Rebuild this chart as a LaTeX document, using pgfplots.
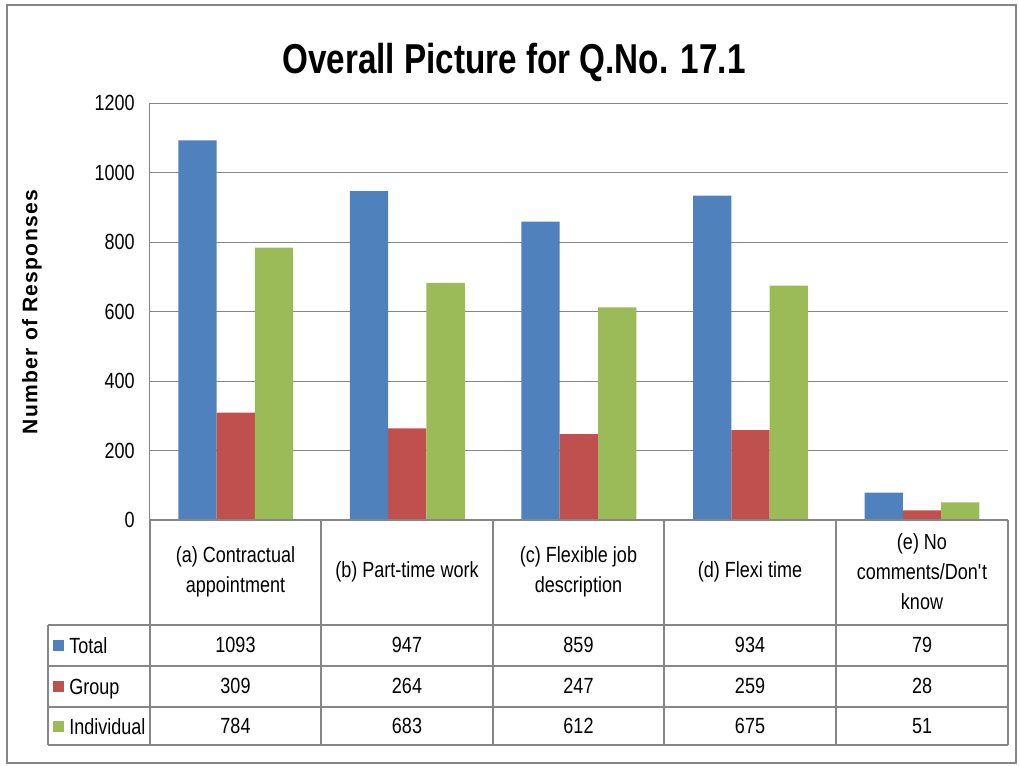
\documentclass[border=0pt]{standalone}
\usepackage{pgfplots}
\pgfplotsset{compat=1.18}
\usepackage{fontspec}
\setmainfont{Liberation Sans}[FakeStretch=0.82]
\newfontfamily\titlefont{Liberation Sans}[FakeStretch=0.795]
\newfontfamily\ylabfont{Liberation Sans}[LetterSpace=6]
\definecolor{cTotal}{HTML}{4F81BD}
\definecolor{cGroup}{HTML}{C0504D}
\definecolor{cIndiv}{HTML}{9BBB59}
\definecolor{lgray}{HTML}{868686}
\begin{document}
\begin{tikzpicture}[x=0.02cm,y=0.02cm]
  \useasboundingbox (0,0) rectangle (1020,765);
  \draw[lgray, line width=0.9pt] (7,2) rectangle (1016,760);
  % title and y label
  \node[font=\fontsize{23.8}{28}\selectfont\titlefont\bfseries] at (514,703) {Overall Picture for Q.No. 17.1};
  \node[rotate=90, font=\fontsize{12}{14}\selectfont\ylabfont\bfseries] at (32,453) {Number of Responses};
  \begin{axis}[
      at={(3cm,4.9cm)}, anchor=south west,
      scale only axis,
      width=17.16cm, height=8.34cm,
      xmin=-0.5, xmax=4.5,
      ymin=0, ymax=1200,
      ytick={0,200,...,1200},
      xtick=\empty,
      axis x line*=bottom, axis y line*=left,
      axis line style={lgray, line width=0.6pt, -},
      ymajorgrids, grid style={lgray, line width=0.6pt},
      ytick style={draw=none},
      yticklabel style={anchor=east, inner sep=0pt, xshift=-0.3cm,
        font=\fontsize{12.5}{14}\selectfont},
      /pgf/number format/assume math mode=true,
      /pgf/number format/1000 sep={},
      ybar=0pt, bar width=0.766cm,
      clip=false,
    ]
    \addplot[draw=none, fill=cTotal] coordinates {(0,1093) (1,947) (2,859) (3,934) (4,79)};
    \addplot[draw=none, fill=cGroup] coordinates {(0,309) (1,264) (2,247) (3,259) (4,28)};
    \addplot[draw=none, fill=cIndiv] coordinates {(0,784) (1,683) (2,612) (3,675) (4,51)};
  \end{axis}
  % data table
  \begin{scope}[lgray, line width=0.6pt]
    \draw (150,245) -- (1008,245);
    \foreach \yy in {140,99,58,20} \draw (48,\yy) -- (1008,\yy);
    \draw (48,140) -- (48,20);
    \foreach \xx in {150,321,493,664,836,1008} \draw (\xx,245) -- (\xx,20);
  \end{scope}
  \begin{scope}[font=\fontsize{12.5}{17}\selectfont, align=center]
    \node at (235.5,193) {(a) Contractual\\appointment};
    \node at (407,193) {(b) Part-time work};
    \node at (578.5,193) {(c) Flexible job\\description};
    \node at (750,193) {(d) Flexi time};
    \node at (922,193) {(e) No\\comments/Don\textquotesingle t\\know};
    \node at (235.5,120) {1093};
    \node at (407,120) {947};
    \node at (578.5,120) {859};
    \node at (750,120) {934};
    \node at (922,120) {79};
    \node at (235.5,79) {309};
    \node at (407,79) {264};
    \node at (578.5,79) {247};
    \node at (750,79) {259};
    \node at (922,79) {28};
    \node at (235.5,39) {784};
    \node at (407,39) {683};
    \node at (578.5,39) {612};
    \node at (750,39) {675};
    \node at (922,39) {51};
    \fill[cTotal] (53,114) rectangle (64,125);
    \fill[cGroup] (53,73) rectangle (64,84);
    \fill[cIndiv] (53,33) rectangle (64,44);
    \node[anchor=base west, inner sep=0pt] at (69,112) {Total};
    \node[anchor=base west, inner sep=0pt] at (69,71) {Group};
    \node[anchor=base west, inner sep=0pt] at (69,31) {Individual};
  \end{scope}
\end{tikzpicture}
\end{document}
